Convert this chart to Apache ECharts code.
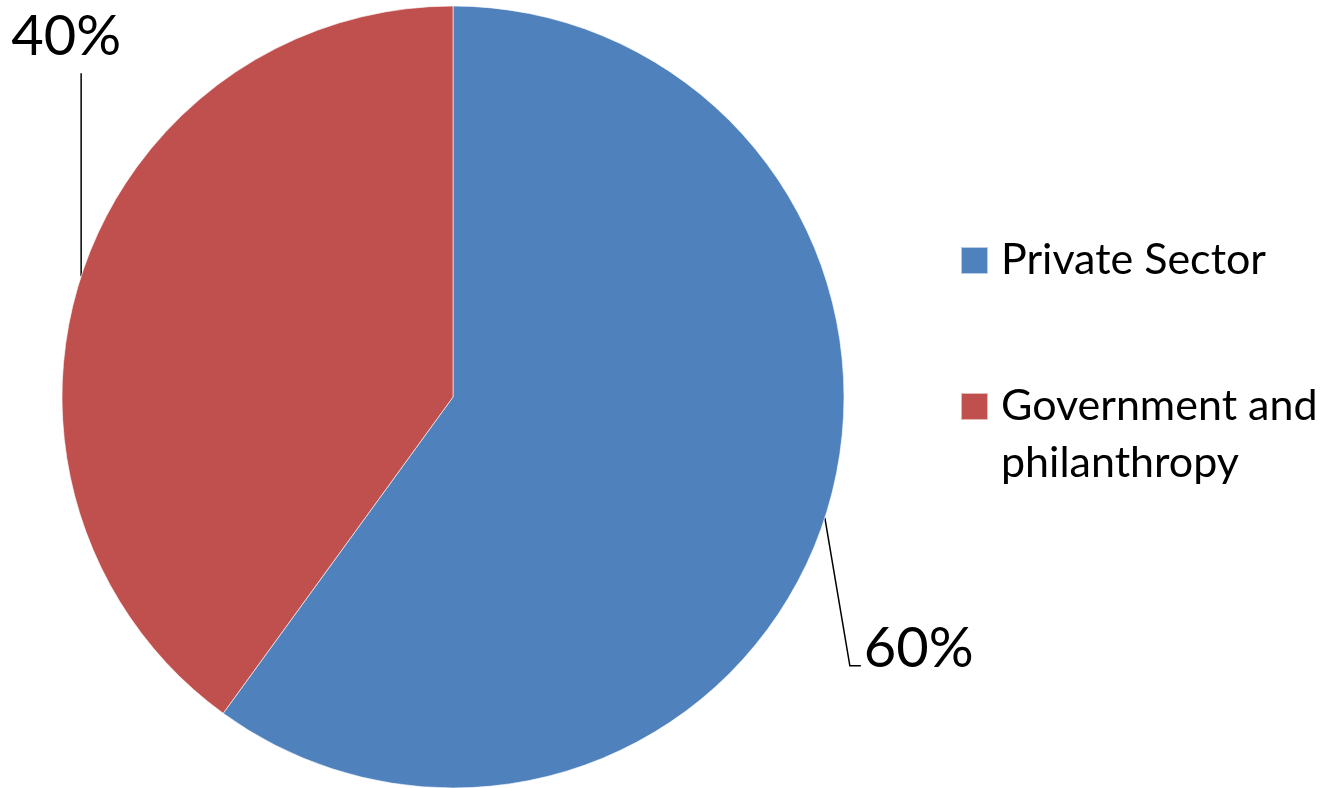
<!DOCTYPE html>
<html>
<head>
<meta charset="utf-8">
<script src="https://cdn.jsdelivr.net/npm/echarts@6/dist/echarts.min.js"></script>
<style>
  html, body { margin: 0; padding: 0; background: #fff; }
  #chart { width: 1332px; height: 788px; }
</style>
</head>
<body>
<div id="chart"></div>
<script>
// Funding sources, share of total (%)
const categories = ['Private Sector', 'Government and philanthropy'];
const shares = [60, 40];
const sliceColors = ['#4F81BD', '#C0504D'];

const FONT = 'Lato, "Open Sans", sans-serif';

const chart = echarts.init(document.getElementById('chart'), null, { renderer: 'canvas' });

const pieData = categories.map((name, i) => ({
  name: name,
  value: shares[i],
  itemStyle: { color: sliceColors[i] }
}));

// Leader-line routing per slice, offsets from the anchor on the rim
function layoutLabel(params) {
  const pts = params.labelLinePoints;
  if (!pts) return {};
  const a = pts[0];
  if (params.dataIndex === 0) {
    // bottom-right: slanted down, short horizontal tail, text to the right
    const p1 = [a[0] + 25, a[1] + 148];
    const p2 = [p1[0] + 11, p1[1]];
    return {
      x: p2[0] + 3,
      y: p2[1] - 17,
      align: 'left',
      verticalAlign: 'middle',
      labelLinePoints: [a, p1, p2]
    };
  }
  // top-left: straight up, text above
  const p1 = [a[0], a[1] - 203];
  return {
    x: a[0] - 15,
    y: p1[1] - 36,
    align: 'center',
    verticalAlign: 'middle',
    labelLinePoints: [a, p1, p1]
  };
}

// legend text: first line sits level with the colour swatch
function legendRich(lineHeight) {
  return {
    t: { color: '#000', fontFamily: FONT, fontSize: 43, lineHeight: lineHeight, padding: [0, 0, 0, 8] }
  };
}

chart.setOption({
  animation: false,
  backgroundColor: '#fff',
  legend: [
    {
      orient: 'vertical',
      left: 960,
      top: 239,
      padding: 0,
      itemWidth: 27,
      itemHeight: 27,
      itemGap: 0,
      icon: 'rect',
      selectedMode: false,
      data: [categories[0]],
      formatter: function (name) { return '{t|' + name + '}'; },
      textStyle: { color: '#000', fontFamily: FONT, fontSize: 43, rich: legendRich(27) }
    },
    {
      orient: 'vertical',
      left: 960,
      top: 328,
      padding: 0,
      itemWidth: 27,
      itemHeight: 27,
      itemGap: 0,
      icon: 'rect',
      selectedMode: false,
      data: [categories[1]],
      formatter: function (name) {
        const i = name.indexOf(' and ') + 4;
        return '{t|}\n{t|' + name.slice(0, i) + '}\n{t|' + name.slice(i + 1) + '}';
      },
      textStyle: { color: '#000', fontFamily: FONT, fontSize: 43, rich: legendRich(57) }
    }
  ],
  series: [{
    type: 'pie',
    center: [453, 397],
    radius: 391,
    startAngle: 90,
    clockwise: true,
    avoidLabelOverlap: false,
    itemStyle: { borderColor: 'rgba(255,255,255,0.6)', borderWidth: 1 },
    label: {
      show: true,
      position: 'outside',
      formatter: function (p) { return p.value + '%'; },
      color: '#000',
      fontFamily: FONT,
      fontSize: 56
    },
    labelLine: {
      show: true,
      length: 20,
      length2: 10,
      lineStyle: { color: '#000', width: 1.5 }
    },
    labelLayout: layoutLabel,
    emphasis: { disabled: true },
    data: pieData
  }]
});
</script>
</body>
</html>
